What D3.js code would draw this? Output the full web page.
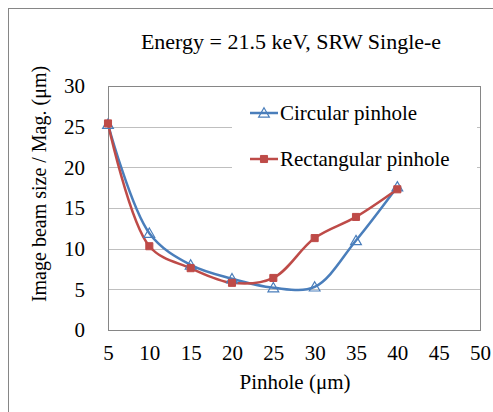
<!DOCTYPE html>
<html><head><meta charset="utf-8">
<script src="https://cdn.jsdelivr.net/npm/d3@7"></script>
<style>body{margin:0;background:#fff}svg{display:block}</style>
</head><body><svg id="c" width="493" height="412"></svg>
<script>
const pinhole = [5, 10, 15, 20, 25, 30, 35, 40];
const circular = [25.3, 11.9, 8.0, 6.3, 5.2, 5.3, 11.0, 17.6];
const rectangular = [25.4, 10.3, 7.6, 5.8, 6.4, 11.3, 13.9, 17.3];
const xTicks = [5, 10, 15, 20, 25, 30, 35, 40, 45, 50];
const yTicks = [0, 5, 10, 15, 20, 25, 30];
const seriesNames = ["Circular pinhole", "Rectangular pinhole"];
const title = "Energy = 21.5 keV, SRW Single-e";
const xLabel = "Pinhole (μm)";
const yLabel = "Image beam size / Mag. (μm)";

const FONT = '"Liberation Serif"';
const svg = d3.select("#c");
const L = 108, R = 480, T = 86, B = 330;
const x = d3.scaleLinear().domain([5, 50]).range([L, R]);
const y = d3.scaleLinear().domain([0, 30]).range([B, T]);
const blue = "#4A7EBB", red = "#BE4B48";

svg.append("rect").attr("x", 8.5).attr("y", 8.5).attr("width", 520).attr("height", 420)
  .attr("fill", "none").attr("stroke", "#868686");

svg.append("g").selectAll("line").data(yTicks.filter(d => d > 0)).join("line")
  .attr("x1", L).attr("x2", R).attr("y1", d => Math.round(y(d)) + 0.5).attr("y2", d => Math.round(y(d)) + 0.5)
  .attr("stroke", "#BFBFBF").attr("stroke-width", 1);

svg.append("rect").attr("x", L + 0.5).attr("y", T + 0.5).attr("width", R - L).attr("height", B - T)
  .attr("fill", "none").attr("stroke", "#868686");

const yAxis = d3.axisLeft(y).tickValues(yTicks).tickSize(0).tickPadding(23);
const gy = svg.append("g").attr("transform", `translate(${L},0)`).call(yAxis);
const xAxis = d3.axisBottom(x).tickValues(xTicks).tickSize(0).tickPadding(15);
const gx = svg.append("g").attr("transform", `translate(0,${B})`).call(xAxis);
[gx, gy].forEach(g => {
  g.attr("font-family", null).attr("font-size", null);
  g.select(".domain").attr("stroke", "#868686");
  g.selectAll("text").style("font-family", FONT).style("font-size", "21px").attr("fill", "#000");
});

svg.append("rect").attr("x", 232).attr("y", 92).attr("width", 245).attr("height", 92).attr("fill", "#fff");

const line = d3.line().x(d => x(d[0])).y(d => y(d[1])).curve(d3.curveCatmullRom.alpha(0.5));
const data = [circular, rectangular].map(s => pinhole.map((p, i) => [p, s[i]]));
const colors = [blue, red];
data.forEach((d, i) => {
  svg.append("path").datum(d).attr("d", line).attr("fill", "none").attr("stroke", colors[i]).attr("stroke-width", 2.5);
});
const tri = d3.symbol().type(d3.symbolTriangle).size(50);
const sq = d3.symbol().type(d3.symbolSquare).size(50);
function marker(g, i, cx, cy) {
  if (i === 0) g.append("path").attr("d", tri).attr("transform", `translate(${cx},${cy + 1})`).attr("fill", "none").attr("stroke", blue).attr("stroke-width", 1.2);
  else g.append("path").attr("d", sq).attr("transform", `translate(${cx},${cy})`).attr("fill", red).attr("stroke", red);
}
data.forEach((d, i) => {
  const g = svg.append("g");
  d.forEach(p => marker(g, i, x(p[0]), y(p[1])));
});

const ly = [113, 159];
function txt(xp, yp, s, anchor, size) {
  return svg.append("text").attr("x", xp).attr("y", yp).attr("text-anchor", anchor || "start")
    .style("font-family", FONT).style("font-size", (size || 21) + "px").attr("fill", "#000").text(s);
}
seriesNames.forEach((n, i) => {
  svg.append("line").attr("x1", 250).attr("x2", 278).attr("y1", ly[i]).attr("y2", ly[i]).attr("stroke", colors[i]).attr("stroke-width", 2.5);
  marker(svg, i, 264, ly[i]);
  txt(280, ly[i] + 7, n);
});

txt(291, 49, title, "middle", 22);
txt(295, 389, xLabel, "middle");
txt(0, 0, yLabel, "middle", 20).attr("transform", `translate(46,184) rotate(-90)`);
</script></body></html>
